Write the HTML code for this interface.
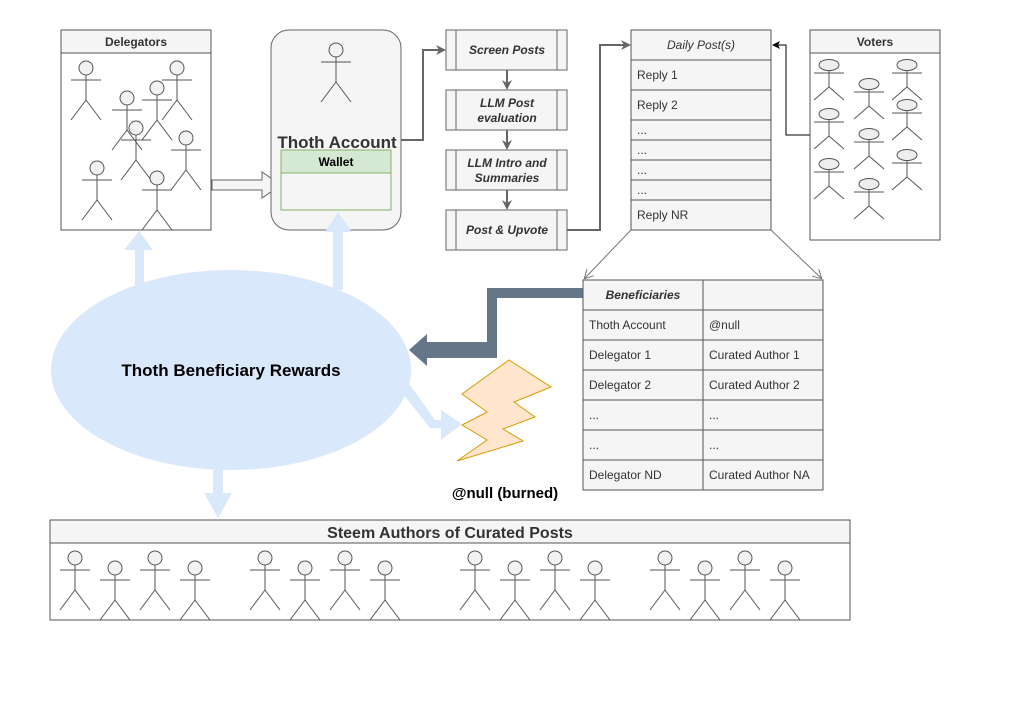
<!DOCTYPE html>
<html><head><meta charset="utf-8"><style>
html,body{margin:0;padding:0;background:#fff}
svg{display:block;font-family:"Liberation Sans",Arial,sans-serif}
</style></head><body>
<svg width="1020" height="720" viewBox="0 0 1020 720" xmlns="http://www.w3.org/2000/svg">
<defs>
<g id="p" fill="#f2f2f2" stroke="#555" stroke-width="1">
<circle cx="0" cy="0" r="7"/><path d="M0 7V32M-15 12H15M0 32L-15 52M0 32L15 52" fill="none"/>
</g>
<g id="v" fill="#eee" stroke="#555" stroke-width="1">
<ellipse cx="0" cy="0" rx="10" ry="5.5"/><path d="M0 5.5V22M-15 8H15M0 22L-15 35M0 22L15 35" fill="none"/>
</g>
<marker id="ag" markerWidth="10" markerHeight="10" refX="8" refY="5" orient="auto" markerUnits="userSpaceOnUse"><path d="M0,0L10,5L0,10L3,5z" fill="#666"/></marker>
<marker id="ab" markerWidth="8" markerHeight="8" refX="7" refY="4" orient="auto" markerUnits="userSpaceOnUse"><path d="M0,0L8,4L0,8L2,4z" fill="#000"/></marker>
<marker id="as" markerWidth="10" markerHeight="10" refX="8" refY="5" orient="auto" markerUnits="userSpaceOnUse"><path d="M0,0L9,5L0,10" fill="none" stroke="#777"/></marker>
</defs>

<ellipse cx="231" cy="370" rx="180" ry="100" fill="#dae8fc"/>
<text x="231" y="376" text-anchor="middle" font-size="17" font-weight="bold" fill="#000">Thoth Beneficiary Rewards</text>

<!-- Delegators -->
<rect x="61" y="30" width="150" height="200" fill="#fff" stroke="#555"/>
<rect x="61" y="30" width="150" height="23" fill="#f5f5f5" stroke="#555"/>
<text x="136" y="46" text-anchor="middle" font-size="12" font-weight="bold" fill="#333">Delegators</text>
<use href="#p" x="86" y="68"/><use href="#p" x="177" y="68"/><use href="#p" x="127" y="98"/><use href="#p" x="157" y="88"/><use href="#p" x="136" y="128"/><use href="#p" x="186" y="138"/><use href="#p" x="97" y="168"/><use href="#p" x="157" y="178"/>

<path d="M212 180H262V172L281 185L262 198V190H212Z" fill="#f5f5f5" stroke="#666"/>

<!-- Thoth account -->
<rect x="271" y="30" width="130" height="200" rx="18" fill="#f5f5f5" stroke="#666"/>
<use href="#p" x="336" y="50"/>
<text x="337" y="148" text-anchor="middle" font-size="17" font-weight="bold" fill="#333">Thoth Account</text>
<rect x="281" y="150" width="110" height="60" fill="#f5f5f5" stroke="#82b366"/>
<rect x="281" y="150" width="110" height="23" fill="#d5e8d4" stroke="#82b366"/>
<text x="336" y="166" text-anchor="middle" font-size="12" font-weight="bold" fill="#000">Wallet</text>

<!-- light arrows (on top) -->
<path d="M135 285V250H124L139 231L153 250H144V285Z" fill="#dae8fc"/>
<path d="M333 290V232H325L338 212L352 232H343V290Z" fill="#dae8fc"/>
<path d="M213 465V493H204L218 518L232 493H223V465Z" fill="#dae8fc"/>
<path d="M400 390L430 428H441V440L462 424L441 410V420H435L410 385Z" fill="#dae8fc"/>

<!-- connectors -->
<path d="M401 140H423V50H444" fill="none" stroke="#666" stroke-width="2" marker-end="url(#ag)"/>
<path d="M567 230H600V45H629" fill="none" stroke="#666" stroke-width="2" marker-end="url(#ag)"/>
<path d="M810 135H786V45H773" fill="none" stroke="#000" stroke-width="1" marker-end="url(#ab)"/>
<path d="M507 70V88" stroke="#666" stroke-width="2" marker-end="url(#ag)"/>
<path d="M507 130V148" stroke="#666" stroke-width="2" marker-end="url(#ag)"/>
<path d="M507 190V208" stroke="#666" stroke-width="2" marker-end="url(#ag)"/>

<!-- process boxes -->
<g fill="#f5f5f5" stroke="#666">
<rect x="446" y="30" width="121" height="40"/><rect x="446" y="90" width="121" height="40"/><rect x="446" y="150" width="121" height="40"/><rect x="446" y="210" width="121" height="40"/>
<path d="M456 30V70M557 30V70M456 90V130M557 90V130M456 150V190M557 150V190M456 210V250M557 210V250" fill="none"/>
</g>
<g font-size="12" font-weight="bold" font-style="italic" fill="#333" text-anchor="middle">
<text x="507" y="54">Screen Posts</text>
<text x="507" y="107">LLM Post</text><text x="507" y="122">evaluation</text>
<text x="507" y="167">LLM Intro and</text><text x="507" y="182">Summaries</text>
<text x="507" y="234">Post &amp; Upvote</text>
</g>

<!-- Daily posts -->
<g fill="#f5f5f5" stroke="#555">
<rect x="631" y="30" width="140" height="30"/><rect x="631" y="60" width="140" height="30"/><rect x="631" y="90" width="140" height="30"/><rect x="631" y="120" width="140" height="20"/><rect x="631" y="140" width="140" height="20"/><rect x="631" y="160" width="140" height="20"/><rect x="631" y="180" width="140" height="20"/><rect x="631" y="200" width="140" height="30"/>
</g>
<g font-size="12" fill="#333">
<text x="701" y="49" text-anchor="middle" font-style="italic">Daily Post(s)</text>
<text x="637" y="79">Reply 1</text><text x="637" y="109">Reply 2</text>
<text x="637" y="134">...</text><text x="637" y="154">...</text><text x="637" y="174">...</text><text x="637" y="194">...</text>
<text x="637" y="219">Reply NR</text>
</g>
<path d="M631 230L585 278" stroke="#777" fill="none" marker-end="url(#as)"/>
<path d="M771 230L821 278" stroke="#777" fill="none" marker-end="url(#as)"/>

<!-- Voters -->
<rect x="810" y="30" width="130" height="210" fill="#fff" stroke="#555"/>
<rect x="810" y="30" width="130" height="23" fill="#f5f5f5" stroke="#555"/>
<text x="875" y="46" text-anchor="middle" font-size="12" font-weight="bold" fill="#333">Voters</text>
<use href="#v" x="829" y="65"/><use href="#v" x="869" y="84"/><use href="#v" x="907" y="65"/><use href="#v" x="829" y="114"/><use href="#v" x="869" y="134"/><use href="#v" x="907" y="105"/><use href="#v" x="829" y="164"/><use href="#v" x="907" y="155"/><use href="#v" x="869" y="184"/>

<!-- dark arrow -->
<path d="M585 288H487V342H427V334L409 350L427 366V358H497V298H585Z" fill="#647687"/>

<!-- beneficiaries -->
<g fill="#f5f5f5" stroke="#555">
<rect x="583" y="280" width="120" height="30"/><rect x="703" y="280" width="120" height="30"/>
<rect x="583" y="310" width="120" height="30"/><rect x="703" y="310" width="120" height="30"/>
<rect x="583" y="340" width="120" height="30"/><rect x="703" y="340" width="120" height="30"/>
<rect x="583" y="370" width="120" height="30"/><rect x="703" y="370" width="120" height="30"/>
<rect x="583" y="400" width="120" height="30"/><rect x="703" y="400" width="120" height="30"/>
<rect x="583" y="430" width="120" height="30"/><rect x="703" y="430" width="120" height="30"/>
<rect x="583" y="460" width="120" height="30"/><rect x="703" y="460" width="120" height="30"/>
</g>
<g font-size="12" fill="#333">
<text x="643" y="299" text-anchor="middle" font-style="italic" font-weight="bold">Beneficiaries</text>
<text x="589" y="329">Thoth Account</text><text x="709" y="329">@null</text>
<text x="589" y="359">Delegator 1</text><text x="709" y="359">Curated Author 1</text>
<text x="589" y="389">Delegator 2</text><text x="709" y="389">Curated Author 2</text>
<text x="589" y="419">...</text><text x="709" y="419">...</text>
<text x="589" y="449">...</text><text x="709" y="449">...</text>
<text x="589" y="479">Delegator ND</text><text x="709" y="479">Curated Author NA</text>
</g>

<polygon points="462,394 509,360 551,387 514,402 535,417 503,429 523,441 457,461 487,440 462,425 487,412" fill="#ffe6cc" stroke="#d79b00"/>
<text x="505" y="498" text-anchor="middle" font-size="15" font-weight="bold" fill="#000">@null (burned)</text>

<!-- bottom authors -->
<rect x="50" y="520" width="800" height="100" fill="#fff" stroke="#555"/>
<rect x="50" y="520" width="800" height="23" fill="#f5f5f5" stroke="#555"/>
<text x="450" y="538" text-anchor="middle" font-size="16" font-weight="bold" fill="#333">Steem Authors of Curated Posts</text>
<use href="#p" x="75" y="558"/><use href="#p" x="115" y="568"/><use href="#p" x="155" y="558"/><use href="#p" x="195" y="568"/>
<use href="#p" x="265" y="558"/><use href="#p" x="305" y="568"/><use href="#p" x="345" y="558"/><use href="#p" x="385" y="568"/>
<use href="#p" x="475" y="558"/><use href="#p" x="515" y="568"/><use href="#p" x="555" y="558"/><use href="#p" x="595" y="568"/>
<use href="#p" x="665" y="558"/><use href="#p" x="705" y="568"/><use href="#p" x="745" y="558"/><use href="#p" x="785" y="568"/>
</svg>
</body></html>
